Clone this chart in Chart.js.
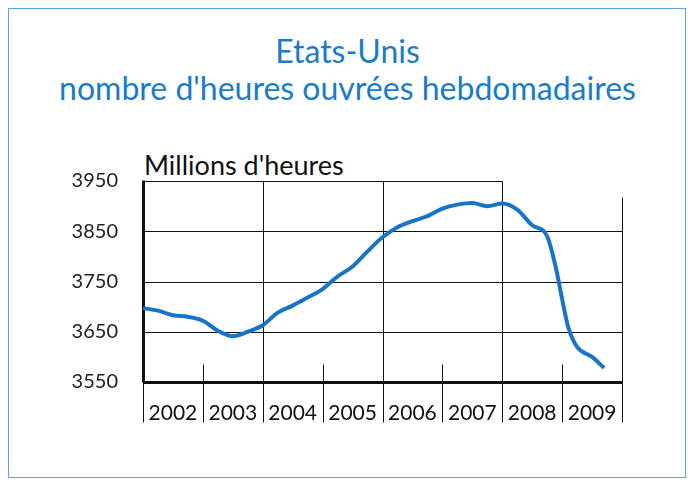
<!DOCTYPE html>
<html><head><meta charset="utf-8">
<script src="https://cdn.jsdelivr.net/npm/chart.js@4/dist/chart.umd.min.js"></script>
<style>
body{margin:0;background:#fff;font-family:"Lato","Noto Sans",sans-serif}
#frame{position:absolute;left:8px;top:8px;width:678px;height:470px;border:1px solid #5aa6dc;box-sizing:border-box}
#t{position:absolute;left:0;top:32px;width:695px;text-align:center;color:#1a7cc8;font-size:32px;line-height:37px}
#u{position:absolute;left:144px;top:148px;font-size:27px;color:#111}
canvas{position:absolute;left:0;top:0}
</style></head><body>
<div id="frame"></div>
<div id="t">Etats-Unis<br>nombre d'heures ouvrées hebdomadaires</div>
<div id="u">Millions d'heures</div>
<canvas id="c" width="695" height="483"></canvas>
<script>
const years=[2002,2003,2004,2005,2006,2007,2008,2009];
const yTicks=[3550,3650,3750,3850,3950];
const xTime=[2002.0,2002.25,2002.5,2002.75,2003.0,2003.25,2003.5,2003.75,2004.0,2004.25,2004.5,2004.75,2005.0,2005.25,2005.5,2005.75,2006.0,2006.25,2006.5,2006.75,2007.0,2007.25,2007.5,2007.75,2008.0,2008.25,2008.5,2008.75,2008.9,2009.0,2009.1,2009.25,2009.5,2009.7];
const hours=[3697,3692,3683,3680,3672,3652,3641,3650,3663,3688,3702,3718,3735,3760,3780,3810,3838,3858,3870,3880,3895,3903,3906,3900,3905,3893,3862,3840,3775,3715,3660,3620,3600,3578];
const fullLines=[2002,2004,2006,2008];
const shortLines=[2003,2005,2007,2009];
const grid={id:'g',beforeDatasetsDraw(ch){
 const c=ch.ctx,x=ch.scales.x,y=ch.scales.y;c.save();c.strokeStyle='#111';c.lineWidth=1;
 const X=v=>Math.round(x.getPixelForValue(v))+0.5,Y=v=>Math.round(y.getPixelForValue(v))+0.5;
 const ln=(a,b,cc,d)=>{c.beginPath();c.moveTo(a,b);c.lineTo(cc,d);c.stroke();};
 [3650,3750,3850].forEach(v=>ln(X(2002),Y(v),X(2010),Y(v)));
 ln(X(2002),Y(3950),X(2008),Y(3950));
 fullLines.forEach(v=>ln(X(v),Y(3950),X(v),Y(3550)+40));
 shortLines.forEach(v=>ln(X(v),Y(3585),X(v),Y(3550)+40));
 ln(X(2010),Y(3918),X(2010),Y(3550)+40);
 c.lineWidth=3;ln(X(2002),Y(3950)-1,X(2002),Y(3550));ln(X(2002),Y(3550),X(2010),Y(3550));
 c.fillStyle='#111';c.font='21px Lato, "Noto Sans"';c.textAlign='center';c.textBaseline='middle';
 years.forEach(v=>c.fillText(String(v),x.getPixelForValue(v+0.5),Y(3550)+31));
 c.restore();}};
new Chart(document.getElementById('c'),{type:'line',
 data:{datasets:[{data:xTime.map((t,i)=>({x:t,y:hours[i]})),borderColor:'#1874c8',borderWidth:4,pointRadius:0,tension:0.4,cubicInterpolationMode:'monotone'}]},
 options:{responsive:false,animation:false,plugins:{legend:{display:false},tooltip:{enabled:false}},
 layout:{padding:{top:181,bottom:101,right:73,left:0}},
 scales:{x:{type:'linear',min:2002,max:2010,display:false},
  y:{min:3550,max:3950,afterBuildTicks:s=>{s.ticks=yTicks.map(v=>({value:v}));},afterFit:s=>{s.width=143;},
   grid:{display:false,drawTicks:false},border:{display:false},
   ticks:{padding:25,color:'#222',font:{size:20,family:'Lato'},callback:v=>String(v)}}}},
 plugins:[grid]});
</script></body></html>
